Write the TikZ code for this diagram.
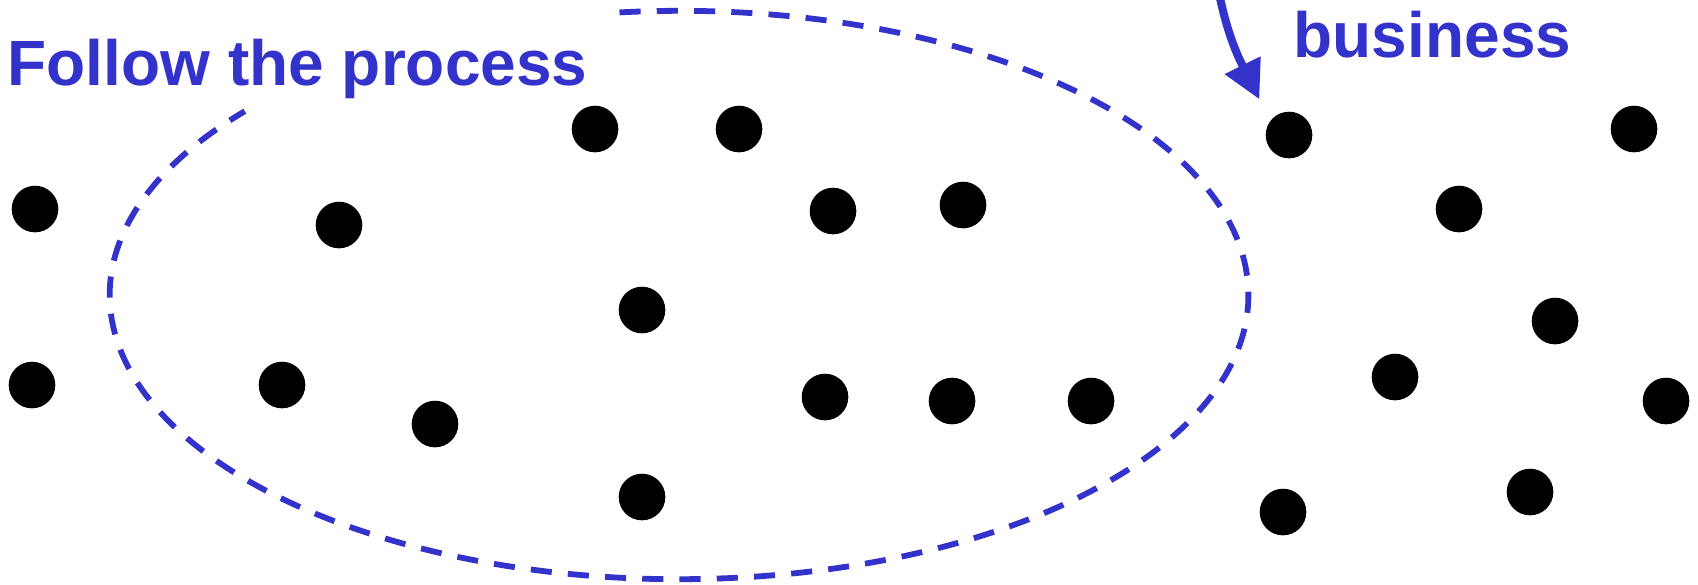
\documentclass[tikz,border=0pt]{standalone}
\usepackage{fontspec}
\setmainfont{Liberation Sans}
\usetikzlibrary{arrows.meta}
\definecolor{LassoBlue}{RGB}{51,51,204}

\begin{document}
\begin{tikzpicture}[x=0.01cm, y=0.01cm,
    dot/.style={circle, fill=black, inner sep=0pt, minimum size=0.466cm},
    note/.style={anchor=base west, inner sep=0pt, text=LassoBlue, font=\fontsize{18.2}{22}\selectfont\bfseries},
    lasso/.style={draw=LassoBlue, line width=1.65pt, dash pattern=on 6pt off 4.6pt},
    pointer/.style={-{Triangle[length=10.8pt, width=10.8pt]}, line width=2.3pt, LassoBlue}
  ]
  \useasboundingbox (0,0) rectangle (1698,-584);
  \clip (0,0) rectangle (1698,-584);

  % labels
  \node[note] (follow) at (7,-85) {Follow the process};
  \node[note] (business) at (1293,-57) {business};

  % the dots
  \node[dot] (d1) at (35,-209) {};
  \node[dot] (d2) at (32,-385) {};
  \node[dot] (d3) at (339,-225) {};
  \node[dot] (d4) at (282,-385) {};
  \node[dot] (d5) at (435,-424) {};
  \node[dot] (d6) at (595,-129) {};
  \node[dot] (d7) at (739,-129) {};
  \node[dot] (d8) at (833,-211) {};
  \node[dot] (d9) at (963,-205) {};
  \node[dot] (d10) at (642,-310) {};
  \node[dot] (d11) at (825,-397) {};
  \node[dot] (d12) at (952,-401) {};
  \node[dot] (d13) at (1091,-401) {};
  \node[dot] (d14) at (642,-497) {};
  \node[dot] (d15) at (1289,-135) {};
  \node[dot] (d16) at (1634,-129) {};
  \node[dot] (d17) at (1459,-209) {};
  \node[dot] (d18) at (1555,-321) {};
  \node[dot] (d19) at (1395,-377) {};
  \node[dot] (d20) at (1666,-401) {};
  \node[dot] (d21) at (1530,-492) {};
  \node[dot] (d22) at (1283,-512) {};

  % open dashed loop round the middle group
  \draw[lasso] (679,-295) ++(96:5.69cm and 2.84cm)
    arc[start angle=96, end angle=-220.3, x radius=5.69cm, y radius=2.84cm];

  % arrow coming in from above
  \coordinate (ptop) at (1217.5,15);
  \draw[pointer, shorten >=0.237cm] (ptop) to[out=-80, in=116.2] (d15.143.5);
\end{tikzpicture}
\end{document}
